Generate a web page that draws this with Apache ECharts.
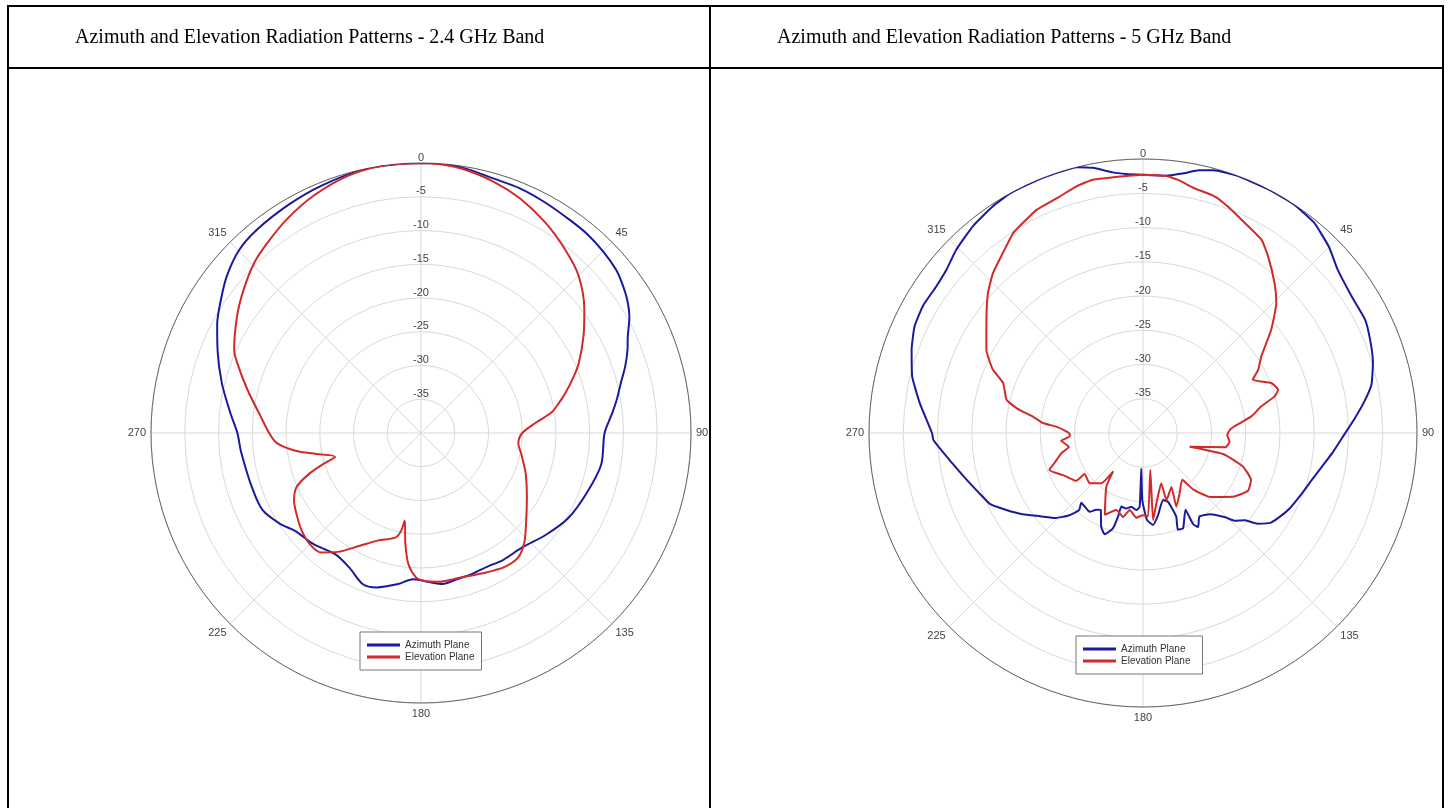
<!DOCTYPE html>
<html>
<head>
<meta charset="utf-8">
<script src="https://cdn.jsdelivr.net/npm/echarts@6/dist/echarts.min.js"></script>
<style>
html,body{margin:0;padding:0;background:#fff;}
#chart{width:1451px;height:808px;}
</style>
</head>
<body>
<div id="chart"></div>
<script>
// Titles
const titleLeft = 'Azimuth and Elevation Radiation Patterns - 2.4 GHz Band';
const titleRight = 'Azimuth and Elevation Radiation Patterns - 5 GHz Band';
const seriesNames = ['Azimuth Plane', 'Elevation Plane'];

// Axis ticks
const angleTicks = [0, 45, 90, 135, 180, 225, 270, 315];
const radiusTicks = [-40, -35, -30, -25, -20, -15, -10, -5, 0];

// 2.4 GHz band : [angle (deg), gain (dB)]
const azimuth24 = [[0,0],[5,0],[10,-0.3],[16,-0.8],[22,-0.9],[28,-1.2],[35,-1.5],[40,-1.6],[45,-1.9],[50,-2.3],[53,-2.8],[57,-3.6],[61,-4.7],[65,-6.2],[68,-7.0],[72,-8.2],[76,-9.5],[80,-10.5],[84,-11.5],[90,-12.8],[100,-12.9],[110,-13.9],[120,-14.8],[129,-16.1],[139,-17.4],[147,-17.6],[154,-17.9],[160,-17.8],[166,-17.7],[172,-17.4],[176,-17.8],[183,-18.3],[189,-17.3],[196,-16.2],[201,-16.0],[208,-17.4],[215,-18.0],[224,-17.1],[232,-16.4],[237,-15.2],[244,-13.9],[252,-13.7],[264,-13.2],[270,-12.8],[276,-11.6],[284,-9.6],[292,-7.5],[298,-5.8],[304,-4.3],[309,-3.0],[315,-1.8],[321,-1.3],[330,-0.9],[338,-0.5],[348,0],[355,0],[360,0]];
const elevation24 = [[0,0],[2,0],[9,-0.4],[16.5,-1.3],[23,-2.3],[30.6,-3.8],[38,-5.4],[45,-7.0],[53,-9.7],[59,-11.9],[66,-14.4],[70,-16.0],[74.5,-17.8],[78,-19.2],[81,-20.4],[85,-23.0],[90,-25.0],[96,-25.5],[102,-24.8],[111,-23.4],[121,-21.7],[132,-19.1],[137,-17.6],[142,-16.6],[148,-16.6],[155,-17.2],[165,-17.8],[173,-17.8],[179,-18.1],[182,-18.6],[185.5,-20.5],[188,-23.4],[190.5,-26.8],[191.5,-25.2],[193.5,-24.1],[202,-22.8],[208.5,-21.0],[215,-18.5],[220,-16.9],[225,-16.7],[231,-17.2],[237,-18.0],[242,-18.7],[246.5,-19.9],[250,-22.4],[252.5,-24.9],[254.5,-26.8],[258.7,-24.2],[262,-21.2],[266,-18.6],[270,-17.5],[276,-16.1],[284,-13.5],[291,-10.8],[294,-9.7],[302.5,-7.7],[309,-6.2],[315.6,-4.7],[321,-3.8],[328,-2.6],[335.7,-1.4],[344,-0.4],[351.5,0],[360,0]];

// 5 GHz band : [angle (deg), gain (dB)]
const azimuth5 = [[0,-2.3],[5,-2.3],[9,-1.6],[12,-0.8],[15,-0.3],[20,0],[27,0],[33,0],[39,-0.4],[45,-1.6],[50,-2.9],[57,-3.6],[63,-3.6],[68,-4.2],[73,-4.9],[78,-5.9],[82,-7.4],[86,-9.0],[91,-10.8],[96,-12.2],[101,-13.5],[106,-14.5],[111,-15.2],[117,-15.9],[121,-16.5],[125,-17.2],[128.4,-18.7],[130.6,-20.4],[133.8,-21.5],[135.7,-22.8],[140.3,-24.6],[145.9,-25.3],[149.6,-24.1],[151.2,-24.8],[151,-27.2],[157.2,-24.9],[160.2,-25.0],[158.3,-26.9],[160,-29.3],[163.4,-29.8],[169.6,-27.8],[173.8,-26.5],[177.4,-27.3],[180.6,-30.2],[182.7,-34.8],[182.6,-29.2],[185,-28.7],[189,-29.1],[192.5,-28.7],[196.4,-28.8],[196.6,-27.3],[197.5,-25.4],[200.7,-24.2],[204,-25.0],[208.8,-27.2],[211.2,-26.9],[214.1,-26.1],[218.4,-26.3],[221.5,-26.4],[219.7,-25.4],[221.8,-23.9],[225.8,-22.2],[231,-20.7],[236,-18.8],[240.6,-17.1],[245,-15.4],[249.5,-14.6],[255,-13.4],[261,-11.8],[268,-9.4],[270,-9.2],[277.7,-7.1],[283.8,-5.3],[289.8,-4.1],[295,-3.2],[300,-2.9],[305.4,-3.0],[309.7,-2.7],[314.5,-1.8],[320.6,-0.9],[326.5,-0.3],[331,0],[337,0],[342,0],[346,0],[349.3,-0.6],[353.4,-1.7],[356.3,-2.1],[360,-2.3]];
const elevation5 = [[0,-2.3],[4.8,-2.3],[7.9,-2.7],[11.9,-3.5],[16.8,-3.9],[20.6,-4.7],[25.8,-5.9],[31.5,-6.9],[35.3,-8.4],[41.3,-10.9],[45.7,-12.8],[51.2,-16.0],[57,-19.4],[61.2,-20.8],[64.1,-22.2],[68.7,-19.9],[72.2,-19.3],[74.4,-20.0],[77.3,-22.3],[81.3,-24.0],[85.8,-26.6],[88,-27.3],[91.4,-27.7],[95.7,-27.3],[99.9,-27.8],[106.3,-32.9],[104.7,-27.9],[108.6,-24.6],[113.5,-22.8],[118.8,-22.5],[125.3,-23.9],[133.7,-26.5],[138.4,-29.0],[140,-31.1],[148.7,-29.7],[155.7,-28.2],[152.2,-31.1],[160.8,-29.6],[160,-32.2],[169.3,-29.5],[173.4,-27.2],[168.8,-34.5],[176.6,-27.8],[180,-28.0],[184.5,-27.6],[189.8,-28.6],[193.4,-27.4],[199.1,-28.1],[205,-26.8],[214.3,-30.5],[217.8,-32.9],[219.6,-30.5],[226.7,-29.3],[234.9,-29.6],[234.4,-28.0],[241.2,-27.0],[248.4,-25.3],[251.4,-26.4],[256,-27.7],[259.5,-29.0],[264.6,-28.0],[267.4,-29.3],[269.2,-29.3],[271.2,-28.8],[274.2,-27.3],[275.7,-25.3],[278.4,-23.8],[281,-21.3],[283.7,-19.5],[289.7,-18.3],[292.9,-16.2],[298,-14.1],[306.7,-11.5],[312.1,-9.5],[316.8,-8.0],[322.1,-6.7],[327,-5.2],[331.3,-4.5],[334.5,-3.9],[340.6,-3.4],[344.9,-2.7],[348.8,-2.3],[356.3,-2.4],[360,-2.3]];

const BLUE = '#1a1a9c';
const RED = '#d12a2a';
const FONT = '"Liberation Sans", Arial, sans-serif';
const SERIF = '"Liberation Serif", "Times New Roman", serif';

const toPolar = arr => arr.map(p => [p[1], p[0]]);

function angleAxis(i) {
  return {
    polarIndex: i, type: 'value', min: 0, max: 360, interval: 45,
    startAngle: 90, clockwise: true,
    axisLine: { show: true, lineStyle: { color: '#666', width: 1 } },
    axisTick: { show: false },
    axisLabel: {
      margin: 5, align: 'center', verticalAlign: 'middle',
      color: '#444', fontSize: 11, fontFamily: FONT,
      formatter: v => (angleTicks.indexOf(v) > 0 ? String(v) : '')
    },
    splitLine: { show: true, lineStyle: { color: '#d9d9d9', width: 1 } }
  };
}
function radiusAxis(i) {
  return {
    polarIndex: i, type: 'value',
    min: radiusTicks[0], max: radiusTicks[radiusTicks.length - 1], interval: 5,
    axisLine: { show: false }, axisTick: { show: false },
    axisLabel: {
      showMinLabel: false, margin: 0, align: 'center', verticalAlign: 'bottom',
      padding: 0, color: '#444', fontSize: 11, fontFamily: FONT
    },
    splitLine: { show: true, lineStyle: { color: '#d9d9d9', width: 1 } }
  };
}
function lineSeries(name, data, polarIndex, color, smooth) {
  return {
    name: name, type: 'line', coordinateSystem: 'polar', polarIndex: polarIndex,
    data: toPolar(data), showSymbol: false, symbol: 'none', smooth: smooth,
    lineStyle: { color: color, width: 2 }, itemStyle: { color: color },
    emphasis: { disabled: true }, z: 3
  };
}
function legend(left, top, padding) {
  return {
    data: seriesNames, orient: 'vertical', left: left, top: top,
    icon: 'rect', itemWidth: 33, itemHeight: 3, itemGap: 2,
    padding: padding, borderColor: '#777', borderWidth: 1, backgroundColor: '#fff',
    textStyle: { fontSize: 10, color: '#333', fontFamily: FONT },
    selectedMode: false
  };
}

const chart = echarts.init(document.getElementById('chart'), null, { renderer: 'canvas' });
chart.setOption({
  animation: false,
  backgroundColor: '#fff',
  polar: [
    { center: [421, 433], radius: 270 },
    { center: [1143, 433], radius: 274 }
  ],
  angleAxis: [angleAxis(0), angleAxis(1)],
  radiusAxis: [radiusAxis(0), radiusAxis(1)],
  legend: [legend(360, 632, [8, 7, 8, 7]), legend(1076, 636, [8, 12, 8, 7])],
  series: [
    lineSeries(seriesNames[0], azimuth24, 0, BLUE, 0.3),
    lineSeries(seriesNames[1], elevation24, 0, RED, 0.3),
    lineSeries(seriesNames[0], azimuth5, 1, BLUE, 0.15),
    lineSeries(seriesNames[1], elevation5, 1, RED, 0.15)
  ],
  graphic: [
    { type: 'rect', shape: { x: 8, y: 6, width: 1435, height: 900 }, style: { fill: 'none', stroke: '#000', lineWidth: 2 }, z: 10, silent: true },
    { type: 'line', shape: { x1: 8, y1: 68, x2: 1443, y2: 68 }, style: { stroke: '#000', lineWidth: 2 }, z: 10, silent: true },
    { type: 'line', shape: { x1: 710, y1: 6, x2: 710, y2: 808 }, style: { stroke: '#000', lineWidth: 2 }, z: 10, silent: true },
    { type: 'text', left: 75, top: 28, style: { text: titleLeft, font: '20px ' + SERIF, fill: '#000' }, z: 10, silent: true },
    { type: 'text', left: 777, top: 28, style: { text: titleRight, font: '20px ' + SERIF, fill: '#000' }, z: 10, silent: true }
  ]
});
</script>
</body>
</html>
